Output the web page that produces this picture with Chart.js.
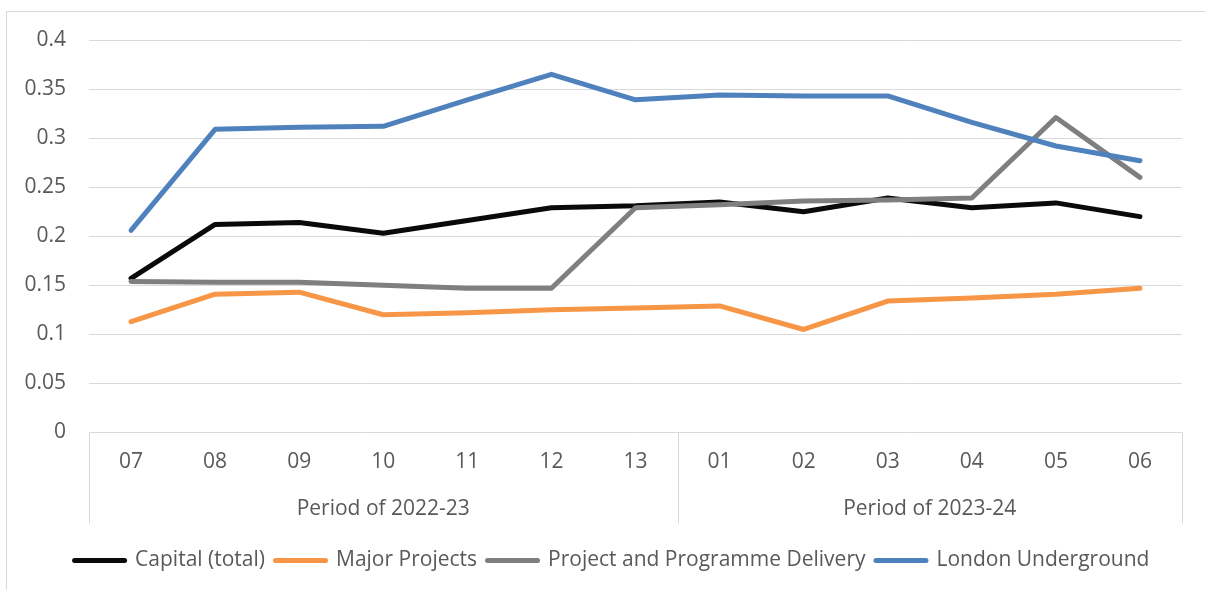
<!DOCTYPE html>
<html>
<head>
<meta charset="utf-8">
<script src="https://cdn.jsdelivr.net/npm/chart.js@4/dist/chart.umd.min.js"></script>
<style>
    body { margin: 0; background: #fff; }
    #frame { position: absolute; left: 6px; top: 11px; width: 1400px; height: 800px;
             border-left: 1px solid #d9d9d9; border-top: 1px solid #d9d9d9; }
    #chart { position: absolute; left: 0; top: 0; }
</style>
</head>
<body>
<div id="frame"></div>
<canvas id="chart" width="1205" height="590"></canvas>
<script>
    // periods, grouped by financial year
    var periods = ["07", "08", "09", "10", "11", "12", "13", "01", "02", "03", "04", "05", "06"];
    var groupNames = ["Period of 2022-23", "Period of 2023-24"];
    var groupSizes = [7, 6];

    var capitalTotal = [0.157, 0.212, 0.214, 0.203, 0.216, 0.229, 0.231, 0.235, 0.225, 0.239, 0.229, 0.234, 0.220];
    var majorProjects = [0.113, 0.141, 0.143, 0.120, 0.122, 0.125, 0.127, 0.129, 0.105, 0.134, 0.137, 0.141, 0.147];
    var ppDelivery = [0.154, 0.153, 0.153, 0.150, 0.147, 0.147, 0.229, 0.232, 0.236, 0.237, 0.239, 0.321, 0.260];
    var londonUnderground = [0.206, 0.309, 0.311, 0.312, 0.339, 0.365, 0.339, 0.344, 0.343, 0.343, 0.316, 0.292, 0.277];

    var yTicks = [0, 0.05, 0.1, 0.15, 0.2, 0.25, 0.3, 0.35, 0.4];

    var textColor = "#595959";
    var gridColor = "#d9d9d9";
    var font = "Open Sans";
    var fontSize = 21;

    // group centres and boundaries in index units
    var groupCenters = [];
    var groupEdges = [-0.5];
    var start = 0;
    for (var g = 0; g < groupSizes.length; g++) {
        groupCenters.push(start + (groupSizes[g] - 1) / 2);
        start += groupSizes[g];
        groupEdges.push(start - 0.5);
    }

    function series(label, data, color, order) {
        return {
            label: label,
            data: data,
            borderColor: color,
            backgroundColor: color,
            borderWidth: 5,
            borderCapStyle: "round",
            borderJoinStyle: "round",
            pointRadius: 0,
            tension: 0,
            fill: false,
            order: order
        };
    }

    // vertical lines between the two year groups, under the axis
    var groupSeparators = {
        id: "groupSeparators",
        afterLayout: function (chart) {
            // legend sits centred on the whole chart box, not the plot
            chart.legend.left += 21;
            chart.legend.right += 21;
        },
        afterDraw: function (chart) {
            var ctx = chart.ctx;
            var x2 = chart.scales.x2;
            var top = chart.chartArea.bottom;
            ctx.save();
            ctx.strokeStyle = gridColor;
            ctx.lineWidth = 1;
            groupEdges.forEach(function (e) {
                var x = Math.round(x2.getPixelForValue(e)) + 0.5;
                ctx.beginPath();
                ctx.moveTo(x, top);
                ctx.lineTo(x, top + 91);
                ctx.stroke();
            });
            ctx.restore();
        }
    };

    new Chart(document.getElementById("chart"), {
        type: "line",
        data: {
            labels: periods,
            datasets: [
                series("Capital (total)", capitalTotal, "#0a0a0a", 4),
                series("Major Projects", majorProjects, "#f79646", 3),
                series("Project and Programme Delivery", ppDelivery, "#7f7f7f", 2),
                series("London Underground", londonUnderground, "#4f81bd", 1)
            ]
        },
        options: {
            responsive: false,
            animation: false,
            devicePixelRatio: 1,
            layout: { padding: { left: 0, right: 23, top: 40, bottom: 9 } },
            plugins: {
                tooltip: { enabled: false },
                legend: {
                    position: "bottom",
                    labels: {
                        boxWidth: 50,
                        boxHeight: 0.01,
                        padding: 10.5,
                        color: textColor,
                        font: { family: font, size: fontSize },
                        sort: function (a, b) { return a.datasetIndex - b.datasetIndex; }
                    }
                }
            },
            scales: {
                y: {
                    min: 0,
                    max: 0.4,
                    afterBuildTicks: function (axis) {
                        axis.ticks = yTicks.map(function (v) { return { value: v }; });
                    },
                    afterFit: function (axis) { axis.width = 89; },
                    ticks: {
                        padding: 23,
                        color: textColor,
                        font: { family: font, size: fontSize },
                        callback: function (v) { return String(+v.toFixed(2)); }
                    },
                    grid: { color: gridColor, lineWidth: 1, drawTicks: false },
                    border: { display: false }
                },
                x: {
                    offset: true,
                    afterFit: function (axis) { axis.height = 44; },
                    ticks: {
                        padding: 17,
                        color: textColor,
                        maxRotation: 0,
                        autoSkip: false,
                        font: { family: font, size: fontSize }
                    },
                    grid: { display: false, drawTicks: false },
                    border: { display: false }
                },
                x2: {
                    type: "linear",
                    position: "bottom",
                    min: -0.5,
                    max: 12.5,
                    afterBuildTicks: function (axis) {
                        axis.ticks = groupCenters.map(function (v) { return { value: v }; });
                    },
                    afterFit: function (axis) { axis.height = 63; },
                    ticks: {
                        padding: 20,
                        color: textColor,
                        maxRotation: 0,
                        autoSkip: false,
                        font: { family: font, size: fontSize },
                        callback: function (v, i) { return groupNames[i]; }
                    },
                    grid: { display: false, drawTicks: false },
                    border: { display: false }
                }
            }
        },
        plugins: [groupSeparators]
    });
</script>
</body>
</html>
